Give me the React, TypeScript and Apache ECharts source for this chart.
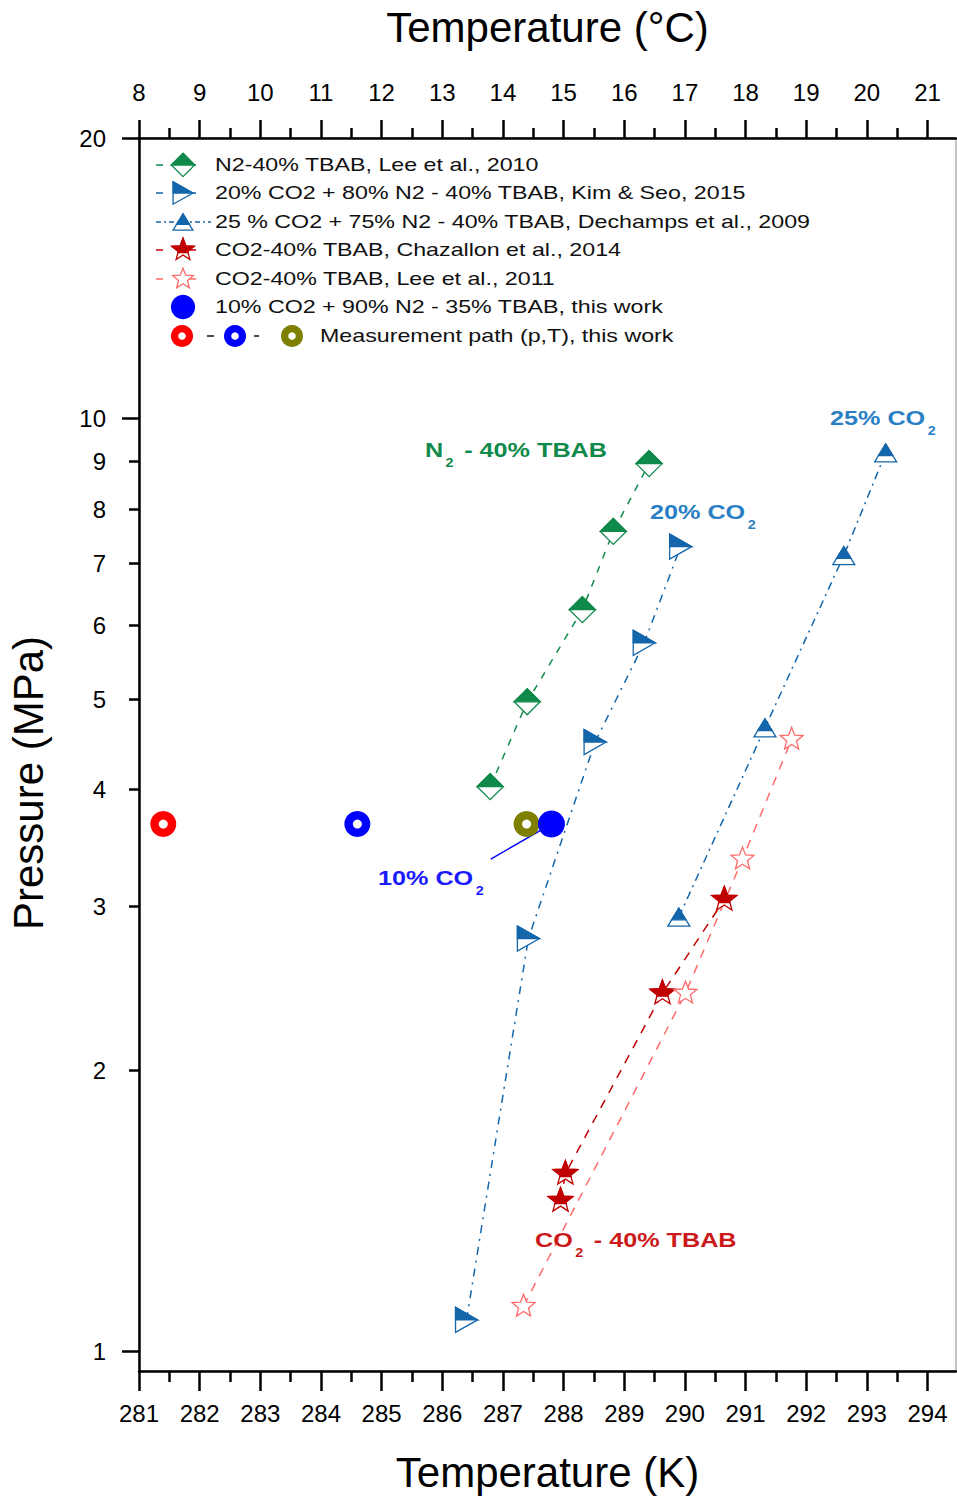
import React, { useEffect, useRef } from 'react';
import * as echarts from 'echarts';

// ---------- axis ticks / labels ----------
const kTicks = [281, 282, 283, 284, 285, 286, 287, 288, 289, 290, 291, 292, 293, 294];
const kMinorTicks = [281.5, 282.5, 283.5, 284.5, 285.5, 286.5, 287.5, 288.5, 289.5, 290.5, 291.5, 292.5, 293.5];
const cTicks = [8, 9, 10, 11, 12, 13, 14, 15, 16, 17, 18, 19, 20, 21];
const cMinorTicks = [8.5, 9.5, 10.5, 11.5, 12.5, 13.5, 14.5, 15.5, 16.5, 17.5, 18.5, 19.5, 20.5];
const pLabels = [1, 2, 3, 4, 5, 6, 7, 8, 9, 10, 20];
const pMajorTicks = [1, 10, 20];
const pMinorTicks = [2, 3, 4, 5, 6, 7, 8, 9];
const kMin = 281;
const kMax = 294.47;
const cOffset = 273;
const pMin = 0.952;
const pMax = 20;

// ---------- data ----------
const n2LeeT = [286.79, 287.4, 288.31, 288.82, 289.41];
const n2LeeP = [4.03, 4.97, 6.24, 7.57, 8.95];
const co2_20T = [286.4, 287.42, 288.52, 289.33, 289.93];
const co2_20P = [1.08, 2.77, 4.5, 5.75, 7.29];
const co2_25T = [289.9, 291.32, 292.62, 293.31];
const co2_25P = [2.92, 4.66, 7.13, 9.19];
const chazT = [287.95, 288.03, 289.63, 290.65];
const chazP = [1.45, 1.55, 2.42, 3.05];
const lee11T = [287.34, 290.01, 290.95, 291.76];
const lee11P = [1.117, 2.42, 3.37, 4.53];
const thisWorkT = [287.8];
const thisWorkP = [3.675];
const pathRedT = [281.4];
const pathBlueT = [284.6];
const pathOliveT = [287.39];
const pathP = [3.675];
const leaderT = [286.8, 287.8];
const leaderP = [3.37, 3.675];

const GREEN = '#0f8a4a';
const BLUE = '#1466aa';
const RED = '#c00000';
const PINK = '#ff6b6b';

const datasets = [
  { name: 'N2-40% TBAB, Lee et al., 2010', T: n2LeeT, P: n2LeeP, color: GREEN, kind: 'diamond', dash: [7, 8], line: true },
  { name: '20% CO2 + 80% N2 - 40% TBAB, Kim & Seo, 2015', T: co2_20T, P: co2_20P, color: BLUE, kind: 'flag', dash: [8, 6, 2, 6], line: true },
  { name: '25 % CO2 + 75% N2 - 40% TBAB, Dechamps et al., 2009', T: co2_25T, P: co2_25P, color: BLUE, kind: 'tri', dash: [8, 5, 2, 5], line: true },
  { name: 'CO2-40% TBAB, Chazallon et al., 2014', T: chazT, P: chazP, color: RED, kind: 'star', dash: [9, 8], line: true },
  { name: 'CO2-40% TBAB, Lee et al., 2011', T: lee11T, P: lee11P, color: PINK, kind: 'starHollow', dash: [9, 8], line: true },
  { name: '10% CO2 + 90% N2 - 35% TBAB, this work', T: thisWorkT, P: thisWorkP, color: '#0000ff', kind: 'dot', dash: [], line: false },
];
const legendDash = [[7, 26], [7, 26], [5, 3, 2, 3], [7, 26], [7, 26], []];
const pathSets = [
  { T: pathRedT, P: pathP, color: '#ff0000' },
  { T: pathBlueT, P: pathP, color: '#0000ff' },
  { T: pathOliveT, P: pathP, color: '#808000' },
];

// ---------- marker geometry ----------
type Pt = number[];
function clipAbove(pts: Pt[], yc: number): Pt[] {
  const out: Pt[] = [];
  for (let i = 0; i < pts.length; i++) {
    const p = pts[i];
    const q = pts[(i + 1) % pts.length];
    const pin = p[1] <= yc;
    const qin = q[1] <= yc;
    if (pin) out.push(p);
    if (pin !== qin) {
      const t = (yc - p[1]) / (q[1] - p[1]);
      out.push([p[0] + t * (q[0] - p[0]), yc]);
    }
  }
  return out;
}
function poly(points: Pt[], fill: string, stroke: string, lw: number) {
  return { type: 'polygon', shape: { points }, style: { fill, stroke, lineWidth: lw } };
}
function halfFilled(full: Pt[], yc: number, color: string) {
  return [poly(full, '#ffffff', color, 1.3), poly(clipAbove(full, yc), color, color, 1.3)];
}
function starPts(cx: number, cy: number, R: number, r: number): Pt[] {
  const pts: Pt[] = [];
  for (let i = 0; i < 10; i++) {
    const a = -Math.PI / 2 + (i * Math.PI) / 5;
    const rr = i % 2 === 0 ? R : r;
    pts.push([cx + rr * Math.cos(a), cy + rr * Math.sin(a)]);
  }
  return pts;
}
function markerShapes(kind: string, cx: number, cy: number, color: string, s: number): any[] {
  if (kind === 'diamond') {
    const h = 13 * s;
    return halfFilled([[cx, cy - h], [cx + h, cy], [cx, cy + h], [cx - h, cy]], cy, color);
  }
  if (kind === 'flag') {
    const w = 22 * s, h = 25 * s;
    return halfFilled([[cx - w / 2, cy - h / 2], [cx + w / 2, cy], [cx - w / 2, cy + h / 2]], cy, color);
  }
  if (kind === 'tri') {
    const w = 22 * s, h = 18 * s;
    return halfFilled([[cx, cy - h / 2], [cx + w / 2, cy + h / 2], [cx - w / 2, cy + h / 2]], cy + h * 0.15, color);
  }
  if (kind === 'star') {
    return halfFilled(starPts(cx, cy, 13 * s, 5.5 * s), cy + 3 * s, color);
  }
  if (kind === 'starHollow') {
    return [poly(starPts(cx, cy, 12 * s, 5.2 * s), '#ffffff', color, 1.3)];
  }
  if (kind === 'ring') {
    return [{ type: 'ring', shape: { cx, cy, r: 13 * s, r0: 4.5 * s }, style: { fill: color } }];
  }
  return [{ type: 'circle', shape: { cx, cy, r: 13.5 * s }, style: { fill: color } }];
}

const lg = (v: number) => Math.log10(v);
const SANS = 'Liberation Sans, Arial, sans-serif';

export default function App() {
  const ref = useRef<HTMLDivElement>(null);
  useEffect(() => {
    if (!ref.current) return;
    const chart = echarts.init(ref.current, null, { renderer: 'svg' });
    const tickFont = { fontFamily: SANS, fontSize: 24, color: '#000' };

    const series: any[] = [];
    datasets.forEach((d) => {
      if (d.line) {
        series.push({
          type: 'line',
          data: d.T.map((t, i) => [t, lg(d.P[i])]),
          symbol: 'none',
          silent: true,
          z: 2,
          lineStyle: { color: d.color, width: 1.5, type: d.dash },
        });
      }
    });
    series.push({
      type: 'line',
      data: leaderT.map((t, i) => [t, lg(leaderP[i])]),
      symbol: 'none',
      silent: true,
      z: 2,
      lineStyle: { color: '#0000ff', width: 1.5 },
    });
    const markerSeries = (T: number[], P: number[], kind: string, color: string) => ({
      type: 'custom',
      data: T.map((t, i) => [t, lg(P[i])]),
      encode: { x: 0, y: 1 },
      z: 5,
      silent: true,
      renderItem: (_p: any, api: any) => {
        const pt = api.coord([api.value(0), api.value(1)]);
        return { type: 'group', children: markerShapes(kind, pt[0], pt[1], color, 1) };
      },
    });
    pathSets.forEach((d) => series.push(markerSeries(d.T, d.P, 'ring', d.color)));
    datasets.forEach((d) => series.push(markerSeries(d.T, d.P, d.kind, d.color)));

    // legend (graphic)
    const rowsY = [165, 193, 222, 250, 279, 307, 336];
    const legendFont = '18px "Liberation Sans", Arial, sans-serif';
    const legendScale = 1.29;
    const legendChildren: any[] = [];
    datasets.forEach((d, i) => {
      const y = rowsY[i];
      if (d.line) {
        legendChildren.push({
          type: 'line',
          shape: { x1: 156, y1: y, x2: 211, y2: y },
          style: { stroke: d.color, lineWidth: 1.5, lineDash: legendDash[i] },
        });
      }
      markerShapes(d.kind, 183, y, d.color, 0.9).forEach((c) => legendChildren.push(c));
      legendChildren.push({
        type: 'text', x: 215, y, scaleX: legendScale,
        style: { text: d.name, x: 0, y: 0, font: legendFont, fill: '#111', verticalAlign: 'middle' },
      });
    });
    {
      const y = rowsY[6];
      legendChildren.push({ type: 'line', shape: { x1: 207, y1: y, x2: 214, y2: y }, style: { stroke: '#111', lineWidth: 1.5 } });
      legendChildren.push({ type: 'line', shape: { x1: 254, y1: y, x2: 259, y2: y }, style: { stroke: '#111', lineWidth: 1.5 } });
      markerShapes('ring', 182, y, '#ff0000', 0.85).forEach((c) => legendChildren.push(c));
      markerShapes('ring', 235, y, '#0000ff', 0.85).forEach((c) => legendChildren.push(c));
      markerShapes('ring', 292, y, '#808000', 0.85).forEach((c) => legendChildren.push(c));
      legendChildren.push({
        type: 'text', x: 320, y, scaleX: legendScale,
        style: { text: 'Measurement path (p,T), this work', x: 0, y: 0, font: legendFont, fill: '#111', verticalAlign: 'middle' },
      });
    }

    const annot = (x: number, y: number, parts: string, color: string) => ({
      type: 'text',
      z: 10,
      x,
      y,
      scaleX: 1.2,
      style: {
        text: parts,
        x: 0,
        y: 0,
        verticalAlign: 'top',
        rich: {
          a: { fontSize: 21, fontWeight: 'bold', fontFamily: SANS, fill: color, lineHeight: 22, verticalAlign: 'top' },
          b: { fontSize: 12, fontWeight: 'bold', fontFamily: SANS, fill: color, lineHeight: 12, padding: [18, 3, 0, 2], verticalAlign: 'top' },
        },
      },
    });

    const option: any = {
      animation: false,
      grid: { left: 139, right: 1, top: 138, bottom: 129, show: true, borderColor: '#888', borderWidth: 1 },
      xAxis: [
        {
          type: 'value', position: 'bottom', min: kMin, max: kMax,
          axisLine: { show: true, onZero: false, lineStyle: { color: '#000', width: 2.5 } },
          axisTick: { show: true, customValues: kTicks, length: 20, lineStyle: { color: '#000', width: 2.5 } },
          axisLabel: { show: true, customValues: kTicks, margin: 30, ...tickFont },
          splitLine: { show: false },
          name: 'Temperature (K)', nameLocation: 'middle', nameGap: 80,
          nameTextStyle: { fontFamily: SANS, fontSize: 42, color: '#000' },
        },
        {
          type: 'value', position: 'bottom', min: kMin, max: kMax,
          axisLine: { show: false, onZero: false },
          axisTick: { show: true, customValues: kMinorTicks, length: 11, lineStyle: { color: '#000', width: 2.5 } },
          axisLabel: { show: false },
          splitLine: { show: false },
        },
        {
          type: 'value', position: 'top', min: kMin - cOffset, max: kMax - cOffset,
          axisLine: { show: true, onZero: false, lineStyle: { color: '#000', width: 2.5 } },
          axisTick: { show: true, customValues: cTicks, length: 18, lineStyle: { color: '#000', width: 2.5 } },
          axisLabel: { show: true, customValues: cTicks, margin: 34, ...tickFont },
          splitLine: { show: false },
          name: 'Temperature (°C)', nameLocation: 'middle', nameGap: 90,
          nameTextStyle: { fontFamily: SANS, fontSize: 42, color: '#000' },
        },
        {
          type: 'value', position: 'top', min: kMin - cOffset, max: kMax - cOffset,
          axisLine: { show: false, onZero: false },
          axisTick: { show: true, customValues: cMinorTicks, length: 10, lineStyle: { color: '#000', width: 2.5 } },
          axisLabel: { show: false },
          splitLine: { show: false },
        },
      ],
      yAxis: [
        {
          type: 'value', position: 'left', min: lg(pMin), max: lg(pMax),
          axisLine: { show: true, onZero: false, lineStyle: { color: '#000', width: 2.5 } },
          axisTick: { show: true, customValues: pMajorTicks.map(lg), length: 17, lineStyle: { color: '#000', width: 2.5 } },
          axisLabel: {
            show: true, customValues: pLabels.map(lg), margin: 33, ...tickFont,
            formatter: (v: number) => String(Math.round(Math.pow(10, v))),
          },
          splitLine: { show: false },
        },
        {
          type: 'value', position: 'left', min: lg(pMin), max: lg(pMax),
          axisLine: { show: false, onZero: false },
          axisTick: { show: true, customValues: pMinorTicks.map(lg), length: 10, lineStyle: { color: '#000', width: 2.5 } },
          axisLabel: { show: false },
          splitLine: { show: false },
        },
      ],
      graphic: [
        {
          type: 'text', x: 28, y: 783, rotation: Math.PI / 2,
          style: { text: 'Pressure (MPa)', font: '42px "Liberation Sans", Arial, sans-serif', fill: '#000', align: 'center', verticalAlign: 'middle' },
        },
        { type: 'group', children: legendChildren, z: 10 },
        annot(425, 439, '{a|N}{b|2}{a| - 40% TBAB}', GREEN),
        annot(650, 501, '{a|20% CO}{b|2}', '#2a7fc4'),
        annot(830, 407, '{a|25% CO}{b|2}', '#2a7fc4'),
        annot(378, 867, '{a|10% CO}{b|2}', '#1a1aff'),
        annot(535, 1229, '{a|CO}{b|2}{a| - 40% TBAB}', '#cc1a1a'),
      ],
      series,
    };
    chart.setOption(option);
    return () => chart.dispose();
  }, []);
  return <div ref={ref} style={{ position: 'absolute', left: 0, top: 0, width: 957, height: 1500 }} />;
}
